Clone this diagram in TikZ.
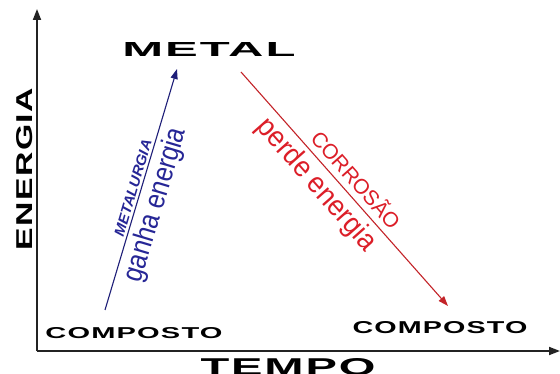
\documentclass[tikz,border=0pt]{standalone}
\usepackage{fontspec}
\usepackage{graphicx}
\setmainfont{Liberation Sans}
\newfontfamily\widebold[LetterSpace=4]{Liberation Sans Bold}
\usetikzlibrary{arrows.meta}
\definecolor{navyline}{RGB}{30,30,120}
\definecolor{textblue}{RGB}{38,38,150}
\definecolor{redline}{RGB}{195,35,40}
\definecolor{redtext}{RGB}{220,30,40}
\definecolor{axisgray}{RGB}{35,35,35}
\begin{document}
\begin{tikzpicture}[x=1pt,y=-1pt,
  axis/.style={line width=1.8pt, draw=axisgray, -{Triangle[length=11pt,width=8pt]}},
  bigcaps/.style={inner sep=0pt, text=black, font=\widebold},
  blueflow/.style={line width=1.1pt, draw=navyline, -{Triangle[length=10pt,width=7pt]}},
  redflow/.style={line width=1.1pt, draw=redline, -{Triangle[length=10pt,width=7pt]}},
  bluetext/.style={inner sep=0pt, text=textblue},
  redlabel/.style={inner sep=0pt, text=redtext}
]
\path[use as bounding box, fill=white] (0,0) rectangle (560,374);
% axes
\coordinate (O) at (37,351);
\coordinate (ytip) at (37,9);
\coordinate (xtip) at (560,351);
\draw[axis] (O) -- (ytip);
\draw[axis] (O) -- (xtip);
% labels
\node[bigcaps, rotate=90] (energia) at (25,169) {\resizebox{162pt}{16pt}{ENERGIA}};
\node[bigcaps] (tempo) at (288,367) {\resizebox{175pt}{17pt}{TEMPO}};
\node[bigcaps] (metal) at (209,50) {\resizebox{173pt}{14pt}{METAL}};
\node[bigcaps] (comp1) at (134,333) {\resizebox{177pt}{11pt}{COMPOSTO}};
\node[bigcaps] (comp2) at (440,328) {\resizebox{175pt}{12pt}{COMPOSTO}};
% arrows
\coordinate (bstart) at (105,310);
\coordinate (bend) at (177,69);
\coordinate (rstart) at (241,72);
\coordinate (rend) at (448,306);
\draw[blueflow] (bstart) -- (bend);
\draw[redflow] (rstart) -- (rend);
% arrow labels
\node[bluetext, rotate=73.4, font=\fontsize{14}{14}\selectfont\bfseries\itshape] (metalurgia) at (133,188) {\resizebox{100pt}{10pt}{METALURGIA}};
\node[bluetext, rotate=73.4, font=\fontsize{29}{29}\selectfont] (ganha) at (156,205) {\scalebox{0.86}[1]{ganha energia}};
\node[redlabel, rotate=-48.5, font=\fontsize{21}{21}\selectfont] (corrosao) at (357,179) {CORROSÃO};
\node[redlabel, rotate=-48.5, font=\fontsize{29}{29}\selectfont] (perde) at (316,185) {\scalebox{0.93}[1]{perde energia}};
\end{tikzpicture}
\end{document}
